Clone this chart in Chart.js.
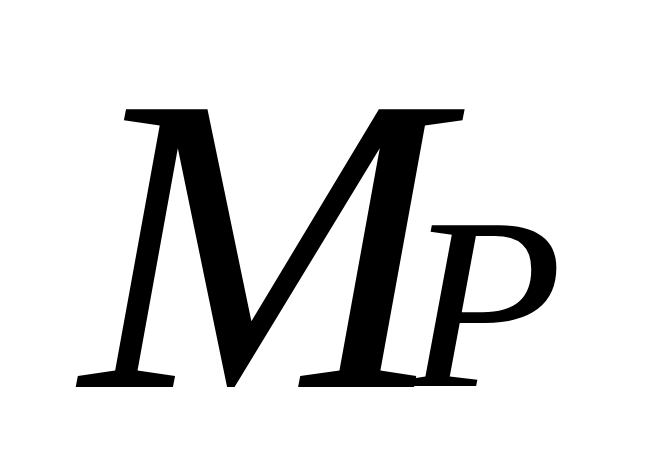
<!DOCTYPE html>
<html>
<head>
<meta charset="utf-8">
<script src="https://cdn.jsdelivr.net/npm/chart.js@4/dist/chart.umd.min.js"></script>
<style>
  html, body { margin: 0; padding: 0; background: #fff; }
  #wrap { width: 670px; height: 458px; }
</style>
</head>
<body>
<div id="wrap"><canvas id="symbolChart" width="670" height="458"></canvas></div>
<script>
// Symbole : M avec indice P
const symbolParts = ['M', 'P'];
const symbolRoles = ['base', 'subscript'];

// Boîtes cibles des glyphes [gauche, haut, droite, bas]
const glyphBoxes = {
    base: [74, 107, 467, 387],
    subscript: [403, 224, 558, 386]
};

const symbolPlugin = {
    id: 'symbolPlugin',
    afterDraw(chart) {
        const ctx = chart.ctx;
        const family = '"Liberation Serif", "Times New Roman", serif';
        ctx.save();
        ctx.fillStyle = '#000';
        ctx.textBaseline = 'alphabetic';
        ctx.textAlign = 'left';
        symbolParts.forEach((part, i) => {
            const box = glyphBoxes[symbolRoles[i]];
            // mesure à taille de référence, puis ajustement à la boîte
            ctx.font = 'italic 100px ' + family;
            const m = ctx.measureText(part);
            const h = m.actualBoundingBoxAscent + m.actualBoundingBoxDescent;
            const w = m.actualBoundingBoxLeft + m.actualBoundingBoxRight;
            const size = 100 * (box[3] - box[1]) / h;
            const sx = ((box[2] - box[0]) / w) / (size / 100);
            ctx.font = 'italic ' + size + 'px ' + family;
            const m2 = ctx.measureText(part);
            ctx.save();
            ctx.translate(box[0], box[3] - m2.actualBoundingBoxDescent);
            ctx.scale(sx, 1);
            ctx.fillText(part, m2.actualBoundingBoxLeft, 0);
            ctx.restore();
        });
        ctx.restore();
    }
};

new Chart(document.getElementById('symbolChart').getContext('2d'), {
    type: 'scatter',
    data: { datasets: [{ data: [] }] },
    options: {
        responsive: false,
        animation: false,
        events: [],
        plugins: {
            legend: { display: false },
            tooltip: { enabled: false }
        },
        scales: {
            x: { display: false },
            y: { display: false }
        }
    },
    plugins: [symbolPlugin]
});
</script>
</body>
</html>
